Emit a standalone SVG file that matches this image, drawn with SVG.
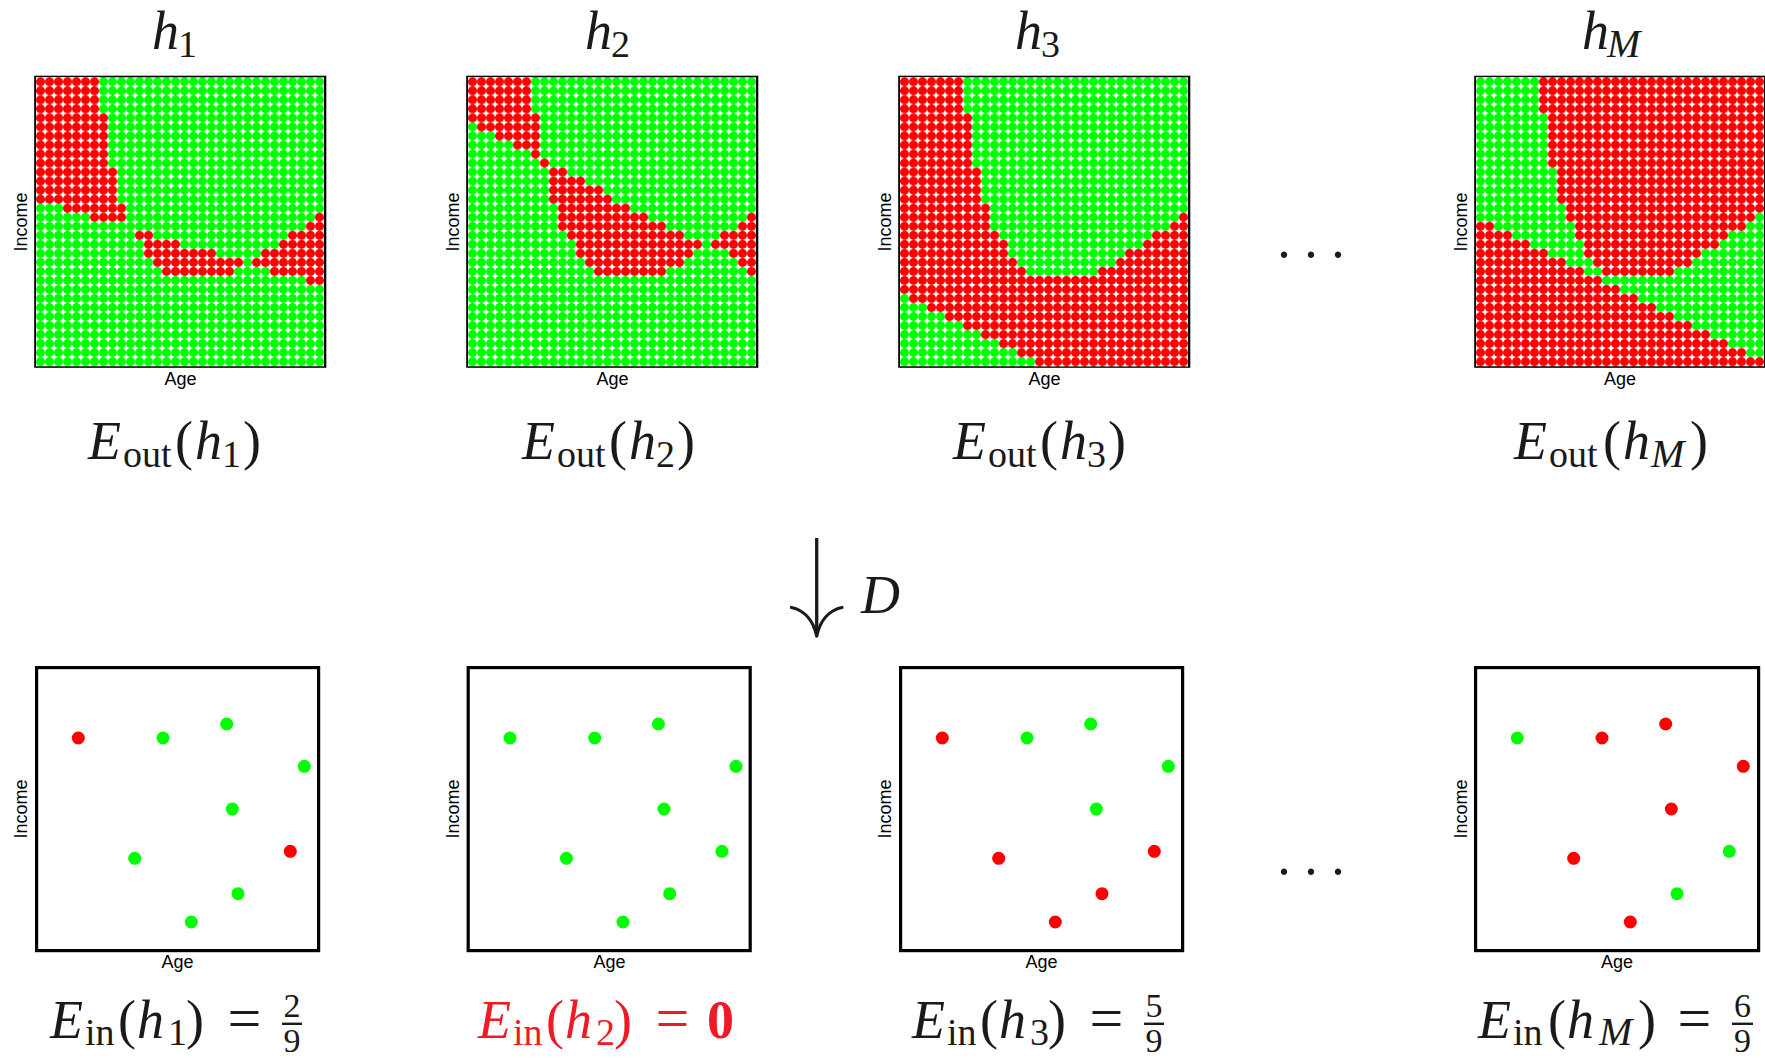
<svg xmlns="http://www.w3.org/2000/svg" width="1765" height="1058" viewBox="0 0 1765 1058">
<style>
.m{font-family:"Liberation Serif","Times New Roman",serif;font-size:54px;fill:#1a1a1a}
.it{font-style:italic}
.s{font-size:38px}
.eq{font-size:60px}
.fr{font-family:"Liberation Serif","Times New Roman",serif;font-size:34px;fill:#1a1a1a;text-anchor:middle}
.ax{font-family:"Liberation Sans",Arial,sans-serif;font-size:18px;fill:#000;text-anchor:middle}
.frame{fill:none;stroke:#000;stroke-width:2.6}
.box{fill:none;stroke:#000;stroke-width:3.2}
.g{fill:#00ff00}
.r{fill:#ff0000}
</style>
<defs>
<pattern id="gd" patternUnits="userSpaceOnUse" width="1" height="1"><rect width="1" height="1" fill="#fff"/><circle cx="0.5" cy="0.5" r="0.5" fill="#00ff00"/></pattern>
<pattern id="rd" patternUnits="userSpaceOnUse" width="1" height="1"><rect width="1" height="1" fill="#fff"/><circle cx="0.5" cy="0.5" r="0.5" fill="#ff0000"/></pattern>
</defs>
<rect width="1765" height="1058" fill="#fff"/>

<!-- Top panel h1 -->
<g id="top-h1">
<text class="m" y="49"><tspan class="it" x="152">h</tspan><tspan class="s" x="178" y="57">1</tspan></text>
<rect class="frame" x="35.5" y="77" width="289.5" height="289.5"/>
<g transform="translate(36 77.3) scale(9 9.03)">
<rect width="32" height="32" fill="url(#gd)"/>
<g fill="url(#rd)">
<rect x="0" y="0" width="7" height="4"/><rect x="0" y="4" width="8" height="6"/><rect x="0" y="10" width="9" height="4"/>
<rect x="3" y="14" width="7" height="1"/><rect x="6" y="15" width="4" height="1"/>
<rect x="31" y="15" width="1" height="1"/><rect x="30" y="16" width="2" height="1"/>
<rect x="11" y="17" width="2" height="1"/><rect x="28" y="17" width="4" height="1"/>
<rect x="12" y="18" width="4" height="1"/><rect x="27" y="18" width="5" height="1"/>
<rect x="12" y="19" width="8" height="1"/><rect x="25" y="19" width="7" height="1"/>
<rect x="13" y="20" width="10" height="1"/><rect x="24" y="20" width="8" height="1"/>
<rect x="14" y="21" width="8" height="1"/><rect x="26" y="21" width="6" height="1"/>
<rect x="30" y="22" width="2" height="1"/>
</g>
</g>
<text class="ax" x="180.5" y="385">Age</text>
<text class="ax" transform="translate(27 222) rotate(-90)">Income</text>
<text class="m" y="459"><tspan class="it" x="88">E</tspan><tspan class="s" x="123" y="467">out</tspan><tspan x="175" y="459">(</tspan><tspan class="it" x="195">h</tspan><tspan class="s" x="222" y="467">1</tspan><tspan x="243" y="459">)</tspan></text>
</g>

<!-- Top panel h2 -->
<g id="top-h2">
<text class="m" y="49"><tspan class="it" x="585">h</tspan><tspan class="s" x="611" y="57">2</tspan></text>
<rect class="frame" x="467.5" y="77" width="289.5" height="289.5"/>
<g transform="translate(468 77.3) scale(9 9.03)">
<rect width="32" height="32" fill="url(#gd)"/>
<g fill="url(#rd)">
<rect x="0" y="0" width="7" height="4"/><rect x="0" y="4" width="8" height="1"/><rect x="1" y="5" width="7" height="1"/>
<rect x="3" y="6" width="5" height="1"/><rect x="5" y="7" width="3" height="1"/><rect x="7" y="8" width="1" height="1"/>
<rect x="8" y="9" width="1" height="1"/><rect x="9" y="10" width="2" height="1"/><rect x="9" y="11" width="4" height="1"/>
<rect x="9" y="12" width="6" height="1"/><rect x="9" y="13" width="7" height="1"/><rect x="10" y="14" width="8" height="1"/>
<rect x="10" y="15" width="10" height="1"/><rect x="31" y="15" width="1" height="1"/>
<rect x="10" y="16" width="12" height="1"/><rect x="30" y="16" width="2" height="1"/>
<rect x="11" y="17" width="13" height="1"/><rect x="28" y="17" width="4" height="1"/>
<rect x="12" y="18" width="14" height="1"/><rect x="27" y="18" width="5" height="1"/>
<rect x="12" y="19" width="13" height="1"/><rect x="29" y="19" width="3" height="1"/>
<rect x="13" y="20" width="11" height="1"/><rect x="30" y="20" width="2" height="1"/>
<rect x="14" y="21" width="8" height="1"/><rect x="31" y="21" width="1" height="1"/>
</g>
</g>
<text class="ax" x="612.5" y="385">Age</text>
<text class="ax" transform="translate(459 222) rotate(-90)">Income</text>
<text class="m" y="459"><tspan class="it" x="522">E</tspan><tspan class="s" x="557" y="467">out</tspan><tspan x="609" y="459">(</tspan><tspan class="it" x="629">h</tspan><tspan class="s" x="656" y="467">2</tspan><tspan x="677" y="459">)</tspan></text>
</g>

<!-- Top panel h3 -->
<g id="top-h3">
<text class="m" y="49"><tspan class="it" x="1015">h</tspan><tspan class="s" x="1041" y="57">3</tspan></text>
<rect class="frame" x="899.5" y="77" width="289.5" height="289.5"/>
<g transform="translate(900 77.3) scale(9 9.03)">
<rect width="32" height="32" fill="url(#gd)"/>
<g fill="url(#rd)">
<rect x="0" y="0" width="7" height="4"/><rect x="0" y="4" width="8" height="6"/><rect x="0" y="10" width="9" height="4"/>
<rect x="0" y="14" width="10" height="3"/><rect x="0" y="17" width="11" height="1"/><rect x="0" y="18" width="12" height="2"/>
<rect x="0" y="20" width="13" height="1"/><rect x="0" y="21" width="14" height="1"/><rect x="22" y="21" width="10" height="1"/>
<rect x="31" y="15" width="1" height="1"/><rect x="30" y="16" width="2" height="1"/><rect x="28" y="17" width="4" height="1"/>
<rect x="27" y="18" width="5" height="1"/><rect x="25" y="19" width="7" height="1"/><rect x="24" y="20" width="8" height="1"/>
<rect x="0" y="22" width="32" height="2"/><rect x="1" y="24" width="31" height="1"/><rect x="3" y="25" width="29" height="1"/>
<rect x="5" y="26" width="27" height="1"/><rect x="7" y="27" width="25" height="1"/><rect x="9" y="28" width="23" height="1"/>
<rect x="11" y="29" width="21" height="1"/><rect x="13" y="30" width="19" height="1"/><rect x="15" y="31" width="17" height="1"/>
</g>
</g>
<text class="ax" x="1044.5" y="385">Age</text>
<text class="ax" transform="translate(891 222) rotate(-90)">Income</text>
<text class="m" y="459"><tspan class="it" x="953">E</tspan><tspan class="s" x="988" y="467">out</tspan><tspan x="1040" y="459">(</tspan><tspan class="it" x="1060">h</tspan><tspan class="s" x="1087" y="467">3</tspan><tspan x="1108" y="459">)</tspan></text>
</g>

<!-- Top panel hM -->
<g id="top-hM">
<text class="m" y="49"><tspan class="it" x="1582">h</tspan><tspan class="s it" x="1607" y="57" style="font-size:40px">M</tspan></text>
<rect class="frame" x="1475.5" y="77" width="289" height="289.5"/>
<g transform="translate(1476 77.3) scale(9 9.03)">
<rect width="32" height="32" fill="url(#rd)"/>
<g fill="url(#gd)">
<rect x="0" y="0" width="7" height="4"/><rect x="0" y="4" width="8" height="6"/><rect x="0" y="10" width="9" height="4"/>
<rect x="0" y="14" width="10" height="2"/><rect x="2" y="16" width="9" height="1"/><rect x="4" y="17" width="7" height="1"/>
<rect x="6" y="18" width="6" height="1"/><rect x="8" y="19" width="4" height="1"/><rect x="10" y="20" width="3" height="1"/>
<rect x="12" y="21" width="2" height="1"/><rect x="14" y="22" width="18" height="1"/>
<rect x="31" y="15" width="1" height="1"/><rect x="30" y="16" width="2" height="1"/><rect x="28" y="17" width="4" height="1"/>
<rect x="27" y="18" width="5" height="1"/><rect x="25" y="19" width="7" height="1"/><rect x="24" y="20" width="8" height="1"/>
<rect x="22" y="21" width="10" height="1"/><rect x="16" y="23" width="16" height="1"/><rect x="18" y="24" width="14" height="1"/>
<rect x="20" y="25" width="12" height="1"/><rect x="22" y="26" width="10" height="1"/><rect x="24" y="27" width="8" height="1"/>
<rect x="26" y="28" width="6" height="1"/><rect x="28" y="29" width="4" height="1"/><rect x="30" y="30" width="2" height="1"/>
</g>
</g>
<text class="ax" x="1620" y="385">Age</text>
<text class="ax" transform="translate(1467 222) rotate(-90)">Income</text>
<text class="m" y="459"><tspan class="it" x="1514">E</tspan><tspan class="s" x="1549" y="467">out</tspan><tspan x="1603" y="459">(</tspan><tspan class="it" x="1623">h</tspan><tspan class="s it" x="1651" y="467" style="font-size:40px">M</tspan><tspan x="1690" y="459">)</tspan></text>
</g>

<!-- ellipses -->
<text id="dots-top" class="m" x="1284 1311 1338" y="273" text-anchor="middle">···</text>
<text id="dots-bottom" class="m" x="1284 1311 1338" y="890" text-anchor="middle">···</text>

<!-- connectors -->
<g id="connectors">
<g id="arrow-D">
<line x1="816.7" y1="538" x2="816.7" y2="632" stroke="#1a1a1a" stroke-width="3.3"/>
<path d="M791.5 607.5 C803 610 813 619 816.7 636 M841.9 607.5 C830.4 610 820.4 619 816.7 636" fill="none" stroke="#1a1a1a" stroke-width="3.3" stroke-linecap="round"/>
<text class="m it" x="861" y="613">D</text>
</g>
</g>

<!-- Bottom panel 1 -->
<g id="bottom-h1">
<rect class="box" x="36.6" y="667.6" width="282" height="283"/>
<g transform="translate(35 0)">
<circle class="r" cx="43.3" cy="738" r="6.5"/><circle class="g" cx="128" cy="738" r="6.5"/><circle class="g" cx="191.7" cy="724" r="6.5"/>
<circle class="g" cx="269.3" cy="766.3" r="6.5"/><circle class="g" cx="197.3" cy="809" r="6.5"/><circle class="r" cx="255.3" cy="851.3" r="6.5"/>
<circle class="g" cx="99.7" cy="858.3" r="6.5"/><circle class="g" cx="203" cy="893.7" r="6.5"/><circle class="g" cx="156.3" cy="922" r="6.5"/>
</g>
<text class="ax" x="177.5" y="968">Age</text>
<text class="ax" transform="translate(27 809) rotate(-90)">Income</text>
<text class="m" y="1038"><tspan class="it" x="50">E</tspan><tspan class="s" x="85" y="1045">in</tspan><tspan x="118" y="1038">(</tspan><tspan class="it" x="137">h</tspan><tspan class="s" x="168" y="1045">1</tspan><tspan x="186" y="1038">)</tspan><tspan class="eq" x="227.6">=</tspan></text>
<text class="fr" x="292" y="1017">2</text><rect x="282" y="1022.6" width="20" height="2.4" fill="#1a1a1a"/><text class="fr" x="292" y="1052">9</text>
</g>

<!-- Bottom panel 2 -->
<g id="bottom-h2">
<rect class="box" x="468.2" y="667.6" width="282" height="283"/>
<g transform="translate(466.7 0)">
<circle class="g" cx="43.3" cy="738" r="6.5"/><circle class="g" cx="128" cy="738" r="6.5"/><circle class="g" cx="191.7" cy="724" r="6.5"/>
<circle class="g" cx="269.3" cy="766.3" r="6.5"/><circle class="g" cx="197.3" cy="809" r="6.5"/><circle class="g" cx="255.3" cy="851.3" r="6.5"/>
<circle class="g" cx="99.7" cy="858.3" r="6.5"/><circle class="g" cx="203" cy="893.7" r="6.5"/><circle class="g" cx="156.3" cy="922" r="6.5"/>
</g>
<text class="ax" x="609.5" y="968">Age</text>
<text class="ax" transform="translate(459 809) rotate(-90)">Income</text>
<text class="m" y="1038" style="fill:#ed1c24"><tspan class="it" x="478">E</tspan><tspan class="s" x="513" y="1045">in</tspan><tspan x="546" y="1038">(</tspan><tspan class="it" x="565">h</tspan><tspan class="s" x="596" y="1045">2</tspan><tspan x="614" y="1038">)</tspan><tspan class="eq" x="655.6">=</tspan><tspan x="707" style="font-weight:bold">0</tspan></text>
</g>

<!-- Bottom panel 3 -->
<g id="bottom-h3">
<rect class="box" x="900.6" y="667.6" width="282" height="283"/>
<g transform="translate(899 0)">
<circle class="r" cx="43.3" cy="738" r="6.5"/><circle class="g" cx="128" cy="738" r="6.5"/><circle class="g" cx="191.7" cy="724" r="6.5"/>
<circle class="g" cx="269.3" cy="766.3" r="6.5"/><circle class="g" cx="197.3" cy="809" r="6.5"/><circle class="r" cx="255.3" cy="851.3" r="6.5"/>
<circle class="r" cx="99.7" cy="858.3" r="6.5"/><circle class="r" cx="203" cy="893.7" r="6.5"/><circle class="r" cx="156.3" cy="922" r="6.5"/>
</g>
<text class="ax" x="1041.5" y="968">Age</text>
<text class="ax" transform="translate(891 809) rotate(-90)">Income</text>
<text class="m" y="1038"><tspan class="it" x="912">E</tspan><tspan class="s" x="947" y="1045">in</tspan><tspan x="980" y="1038">(</tspan><tspan class="it" x="999">h</tspan><tspan class="s" x="1030" y="1045">3</tspan><tspan x="1048" y="1038">)</tspan><tspan class="eq" x="1089.6">=</tspan></text>
<text class="fr" x="1154" y="1017">5</text><rect x="1144" y="1022.6" width="20" height="2.4" fill="#1a1a1a"/><text class="fr" x="1154" y="1052">9</text>
</g>

<!-- Bottom panel M -->
<g id="bottom-hM">
<rect class="box" x="1475.6" y="667.6" width="283" height="283"/>
<g transform="translate(1474 0)">
<circle class="g" cx="43.3" cy="738" r="6.5"/><circle class="r" cx="128" cy="738" r="6.5"/><circle class="r" cx="191.7" cy="724" r="6.5"/>
<circle class="r" cx="269.3" cy="766.3" r="6.5"/><circle class="r" cx="197.3" cy="809" r="6.5"/><circle class="g" cx="255.3" cy="851.3" r="6.5"/>
<circle class="r" cx="99.7" cy="858.3" r="6.5"/><circle class="g" cx="203" cy="893.7" r="6.5"/><circle class="r" cx="156.3" cy="922" r="6.5"/>
</g>
<text class="ax" x="1617" y="968">Age</text>
<text class="ax" transform="translate(1467 809) rotate(-90)">Income</text>
<text class="m" y="1038"><tspan class="it" x="1478">E</tspan><tspan class="s" x="1513" y="1045">in</tspan><tspan x="1548" y="1038">(</tspan><tspan class="it" x="1567">h</tspan><tspan class="s it" x="1599" y="1045" style="font-size:40px">M</tspan><tspan x="1638" y="1038">)</tspan><tspan class="eq" x="1677.6">=</tspan></text>
<text class="fr" x="1742.5" y="1017">6</text><rect x="1732" y="1022.6" width="21" height="2.4" fill="#1a1a1a"/><text class="fr" x="1742.5" y="1052">9</text>
</g>
</svg>
